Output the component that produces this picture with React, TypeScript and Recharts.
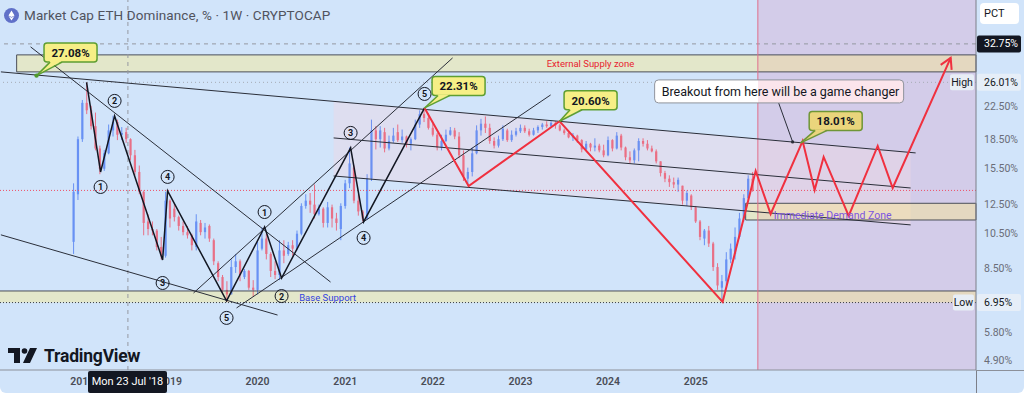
import React from 'react'
import {
  ComposedChart,
  Bar,
  Line,
  XAxis,
  YAxis,
  ReferenceArea,
  ReferenceLine,
  ReferenceDot,
} from 'recharts'

const W = 1024
const H = 393
const AXIS_X = 976
const BG = '#d1e4fa'
const FONT = 'Roboto, "Noto Sans", sans-serif'

const START = 2017.9
const STEP = 0.05
const opens = [
  10.0, 13.3, 18.5, 23.0, 22.0, 20.0, 17.5, 15.5, 17.0, 19.5, 20.5, 19.0, 19.3, 18.5, 16.8, 15.2, 13.5, 11.3, 10.8, 10.7,
  9.7, 9.2, 12.8, 12.2, 11.6, 11.0, 10.6, 10.4, 9.7, 11.2, 10.6, 11.0, 10.1, 8.8, 8.1, 7.5, 7.3, 8.6, 8.9, 8.1,
  8.4, 7.6, 7.5, 9.6, 10.2, 9.3, 8.4, 8.2, 9.5, 9.3, 9.8, 9.6, 10.5, 12.4, 12.8, 12.5, 11.8, 12.2, 11.2, 12.3,
  11.5, 10.8, 12.4, 14.2, 15.6, 12.8, 12.0, 11.5, 14.6, 19.5, 18.5, 19.3, 17.5, 18.3, 19.3, 18.4, 18.8, 18.0, 18.5, 20.2,
  21.5, 21.0, 19.8, 19.0, 17.6, 18.3, 19.0, 19.5, 18.8, 16.8, 14.6, 15.2, 17.0, 19.5, 20.3, 19.8, 18.3, 17.8, 18.5, 19.5,
  18.4, 19.0, 19.4, 19.8, 19.4, 19.0, 19.5, 19.9, 20.2, 20.0, 20.4, 20.1, 19.5, 19.2, 18.7, 18.9, 18.4, 17.4, 18.0, 17.6,
  17.8, 17.3, 16.8, 18.4, 17.5, 18.9, 17.6, 16.6, 16.3, 17.3, 18.3, 18.0, 17.5, 17.2, 16.2, 15.1, 14.6, 14.3, 14.1, 14.0,
  12.8, 13.2, 12.3, 11.3, 10.2, 10.7, 9.9, 8.6, 7.6, 7.9, 9.0, 9.3, 10.3, 11.5, 13.0, 14.6,
]
const highs = [
  14.2, 18.8, 23.4, 26.01, 22.6, 21.7, 17.8, 17.35, 20.2, 21.3, 20.8, 19.9, 19.8, 18.6, 17.35, 15.8, 13.6, 11.8, 11.3, 10.8,
  10.3, 13.5, 12.9, 12.6, 11.7, 11.3, 11.0, 10.5, 11.8, 11.4, 11.2, 11.1, 10.2, 8.9, 8.2, 7.9, 9.0, 9.3, 9.0, 8.5,
  8.45, 7.95, 10.0, 10.9, 10.5, 9.4, 8.9, 10.1, 10.1, 10.0, 10.1, 10.7, 12.6, 13.3, 13.4, 14.1, 12.5, 12.3, 12.7, 12.5,
  11.9, 12.6, 14.5, 17.6, 15.8, 13.3, 12.1, 15.0, 20.8, 20.0, 20.0, 19.8, 18.9, 19.8, 20.2, 19.6, 18.9, 18.7, 20.8, 22.0,
  22.31, 21.6, 20.3, 19.2, 19.0, 19.6, 19.9, 19.8, 19.3, 17.3, 15.6, 17.6, 20.1, 20.9, 21.2, 20.3, 18.7, 18.9, 20.1, 19.7,
  19.5, 19.8, 20.2, 20.1, 19.7, 19.8, 20.1, 20.4, 20.6, 20.6, 20.6, 20.3, 19.7, 19.3, 19.2, 19.0, 18.5, 18.3, 18.1, 18.6,
  18.0, 17.9, 18.8, 18.5, 19.3, 19.1, 17.7, 17.2, 17.5, 18.6, 18.6, 18.4, 17.8, 17.4, 16.2, 15.3, 14.9, 14.7, 14.7, 14.0,
  13.6, 13.3, 12.4, 11.4, 10.8, 11.0, 10.0, 8.8, 8.2, 9.4, 9.9, 10.9, 11.9, 13.3, 14.9, 15.2,
]
const lows = [
  9.3, 12.85, 18.2, 21.5, 19.6, 17.3, 15.0, 15.3, 16.9, 18.8, 18.4, 18.4, 18.1, 16.3, 14.9, 13.3, 10.4, 10.4, 10.4, 9.5,
  9.0, 9.1, 10.9, 11.3, 10.7, 10.4, 10.2, 9.5, 9.5, 10.4, 10.2, 10.0, 8.7, 7.9, 7.4, 6.98, 7.3, 8.3, 7.9, 8.0,
  7.5, 7.2, 7.3, 9.5, 9.0, 8.1, 8.0, 7.95, 8.8, 9.2, 9.2, 9.5, 10.4, 12.2, 11.9, 11.5, 11.7, 10.9, 10.9, 10.9,
  10.7, 10.1, 12.2, 13.8, 12.6, 11.7, 11.3, 11.4, 14.4, 17.4, 17.6, 17.1, 17.3, 18.1, 18.2, 18.1, 17.6, 17.3, 18.4, 19.8,
  20.5, 19.6, 18.8, 17.3, 17.3, 18.2, 18.9, 18.5, 16.5, 14.4, 14.0, 14.8, 16.9, 18.9, 19.2, 18.0, 17.5, 17.6, 18.3, 18.2,
  18.2, 18.8, 19.2, 19.2, 18.8, 18.9, 19.2, 19.6, 19.8, 19.9, 19.7, 19.4, 19.0, 18.6, 18.3, 18.1, 17.1, 17.3, 17.2, 17.2,
  17.1, 16.6, 16.7, 17.2, 17.4, 17.3, 16.3, 16.0, 16.0, 16.2, 17.7, 17.3, 17.1, 16.0, 14.8, 14.3, 13.9, 13.8, 13.5, 12.5,
  12.4, 12.1, 11.2, 10.1, 9.8, 9.7, 8.4, 7.5, 6.98, 7.7, 8.8, 9.0, 10.2, 11.3, 12.9, 13.5,
]
const closes = [
  13.5, 18.5, 23.0, 22.0, 20.0, 17.5, 15.5, 17.0, 19.5, 20.5, 19.0, 19.2, 18.5, 16.8, 15.2, 13.5, 11.2, 10.8, 10.7, 9.7,
  9.2, 12.8, 11.5, 11.6, 11.0, 10.6, 10.4, 9.8, 11.3, 10.6, 10.9, 10.2, 8.9, 8.1, 7.5, 7.3, 8.6, 8.9, 8.2, 8.4,
  7.6, 7.5, 9.5, 10.2, 9.3, 8.4, 8.2, 9.5, 9.2, 9.8, 9.6, 10.5, 12.4, 12.8, 12.5, 11.8, 12.2, 11.2, 12.3, 11.5,
  11.2, 12.4, 14.2, 16.0, 12.8, 12.0, 11.5, 14.6, 19.5, 18.5, 19.5, 17.5, 18.3, 18.9, 18.4, 18.8, 18.0, 18.5, 20.2, 21.5,
  21.0, 19.8, 19.0, 17.6, 18.3, 19.0, 19.5, 18.8, 16.8, 14.8, 15.2, 17.0, 19.5, 20.3, 19.8, 18.3, 17.8, 18.5, 19.7, 18.4,
  19.0, 19.4, 19.8, 19.4, 19.0, 19.5, 19.9, 20.2, 20.0, 20.4, 20.1, 19.5, 19.2, 18.7, 18.9, 18.4, 17.4, 18.0, 17.6, 17.8,
  17.3, 16.8, 18.4, 17.5, 18.9, 17.6, 16.6, 16.3, 17.3, 18.3, 18.0, 17.5, 17.2, 16.2, 15.1, 14.6, 14.3, 14.1, 14.5, 12.8,
  13.4, 12.3, 11.3, 10.3, 10.7, 9.9, 8.6, 7.7, 7.9, 9.0, 9.6, 10.3, 11.5, 13.0, 14.6, 13.61,
]
const times = opens.map((_, i) => +(START + i * STEP).toFixed(2))

const yearTicks = [2018, 2019, 2020, 2021, 2022, 2023, 2024, 2025]
const priceTicks = [4.9, 5.8, 6.95, 8.5, 10.5, 12.5, 13.61, 15.5, 18.5, 22.5, 26.01, 32.75]

// elliott wave zigzag (black) and projected path (red)
const wavePath = [
  { t: 2018.048, v: 26.01 }, { t: 2018.208, v: 15.2 }, { t: 2018.368, v: 21.27 }, { t: 2018.916, v: 8.97 },
  { t: 2018.973, v: 13.57 }, { t: 2019.646, v: 7.02 }, { t: 2020.08, v: 10.93 }, { t: 2020.274, v: 8.05 },
  { t: 2021.062, v: 17.56 }, { t: 2021.21, v: 11.27 }, { t: 2021.906, v: 22.31 },
]
const waveLabels = [
  { t: 2018.208, v: 15.2, n: 1, dy: 15 }, { t: 2018.368, v: 21.27, n: 2, dy: -15 },
  { t: 2018.916, v: 8.97, n: 3, dy: 23 }, { t: 2018.973, v: 13.57, n: 4, dy: -14 },
  { t: 2019.646, v: 7.02, n: 5, dy: 17 }, { t: 2020.08, v: 10.93, n: 1, dy: -15 },
  { t: 2020.274, v: 8.05, n: 2, dy: 18 }, { t: 2021.062, v: 17.56, n: 3, dy: -15 },
  { t: 2021.21, v: 11.27, n: 4, dy: 16 }, { t: 2021.906, v: 22.31, n: 5, dy: -14 },
]
const projPath = [
  { t: 2021.906, v: 22.31 }, { t: 2022.409, v: 13.98 }, { t: 2023.447, v: 20.6 }, { t: 2025.308, v: 6.98 },
  { t: 2025.685, v: 15.29 }, { t: 2025.856, v: 11.82 }, { t: 2026.221, v: 18.3 }, { t: 2026.358, v: 13.65 },
  { t: 2026.461, v: 16.63 }, { t: 2026.747, v: 11.68 }, { t: 2027.078, v: 17.77 }, { t: 2027.249, v: 13.81 },
  { t: 2027.911, v: 30.11 },
]
const arrowHead = [{ t: 2027.797, v: 28.88 }, { t: 2027.911, v: 30.11 }, { t: 2027.922, v: 28.02 }]

// trend lines [x1, y1, x2, y2]
const trendLines = [
  [2017.07, 27.69, 2027.511, 17.04],
  [2017.409, 32.17, 2020.833, 7.86],
  [2017.07, 10.43, 2020.228, 6.45],
  [2019.269, 7.36, 2022.226, 30.11],
  [2019.76, 6.73, 2023.345, 24.12],
  [2020.868, 18.64, 2027.454, 13.81],
  [2020.868, 14.84, 2027.454, 11.07],
]
const channel = { x1: 2020.868, x2: 2027.454, topL: 23.2, topR: 17.09, botL: 14.84, botR: 11.07 }

const callouts = [
  { t: 2017.477, v: 27.08, text: '27.08%', dx: 34, dy: -23, fill: '#f6ef86', stroke: '#5e9e32', dot: true },
  { t: 2021.906, v: 22.31, text: '22.31%', dx: 34, dy: -22, fill: '#f6ef86', stroke: '#5e9e32', dot: false },
  { t: 2023.447, v: 20.6, text: '20.60%', dx: 31, dy: -21, fill: '#f6ef86', stroke: '#5e9e32', dot: false },
  { t: 2026.199, v: 18.09, text: '18.01%', dx: 35, dy: -22, fill: '#ead57c', stroke: '#6f9636', dot: false },
]

const candles = times.map((t, i) => ({
  t,
  o: opens[i],
  h: highs[i],
  l: lows[i],
  c: closes[i],
  range: [lows[i], highs[i]],
}))

const Candle = (props: any) => {
  const { x, y, width, height, payload } = props
  if (!payload) return null
  const top = Math.min(y, y + height)
  const hgt = Math.abs(height)
  const lh = Math.log(payload.h)
  const ll = Math.log(payload.l)
  const py = (v: number) => top + (hgt * (lh - Math.log(v))) / (lh - ll || 1)
  const cx = x + width / 2
  const up = payload.c >= payload.o
  const color = up ? '#4576f2' : '#f04a60'
  const b1 = py(Math.max(payload.o, payload.c))
  const b2 = py(Math.min(payload.o, payload.c))
  return (
    <g opacity={0.75}>
      <line x1={cx} x2={cx} y1={top} y2={top + hgt} stroke={color} strokeWidth={1} />
      <rect x={cx - 1.1} y={b1} width={2.2} height={Math.max(1, b2 - b1)} fill={color} />
    </g>
  )
}

const channelShape = (p: any) => {
  const { x, y, width, height } = p
  const span = Math.log(channel.topL / channel.botR)
  const d1 = (height * Math.log(channel.topL / channel.topR)) / span
  const d2 = (height * Math.log(channel.botL / channel.botR)) / span
  const pts = `${x},${y} ${x + width},${y + d1} ${x + width},${y + height} ${x},${y + height - d2}`
  return <polygon points={pts} fill="rgb(235,216,230)" fillOpacity={0.5} />
}

const waveLabelShape = (n: number, dy: number) => (p: any) => (
  <g>
    <circle cx={p.cx} cy={p.cy + dy} r={6.5} fill="none" stroke="#131722" strokeWidth={1} />
    <text x={p.cx} y={p.cy + dy + 0.5} textAnchor="middle" dominantBaseline="central" fontSize={9} fontWeight={700} fill="#131722" fontFamily={FONT}>
      {n}
    </text>
  </g>
)

const calloutShape = (c: (typeof callouts)[number]) => (p: any) => {
  const w = 53
  const h = 19
  const bx = p.cx + c.dx - w / 2
  const by = p.cy + c.dy - h / 2
  return (
    <g>
      <rect x={bx} y={by} width={w} height={h} rx={3} fill={c.fill} stroke={c.stroke} strokeWidth={1.5} />
      <polygon points={`${bx + 6},${by + h - 1} ${p.cx},${p.cy} ${bx + 18},${by + h - 1}`} fill={c.fill} />
      <line x1={bx + 6} y1={by + h} x2={p.cx} y2={p.cy} stroke={c.stroke} strokeWidth={1.5} />
      <line x1={bx + 18} y1={by + h} x2={p.cx} y2={p.cy} stroke={c.stroke} strokeWidth={1.5} />
      {c.dot && <circle cx={p.cx} cy={p.cy} r={2.2} fill="#4f9a2e" />}
      <text x={bx + w / 2} y={by + h / 2 + 0.5} textAnchor="middle" dominantBaseline="central" fontSize={11.5} fontWeight={700} fill="#131722" fontFamily={FONT}>
        {c.text}
      </text>
    </g>
  )
}

const noteShape = (p: any) => {
  const bx = p.cx - 138
  const by = p.cy - 62
  return (
    <g>
      <defs>
        <linearGradient id="noteFill" x1="0" x2="1" y1="0" y2="0">
          <stop offset="0.414" stopColor="#ffffff" />
          <stop offset="0.414" stopColor="#fbe5ec" />
        </linearGradient>
      </defs>
      <line x1={p.cx - 14} y1={by + 23} x2={p.cx} y2={p.cy} stroke="#2a2e39" strokeWidth={1} />
      <circle cx={p.cx} cy={p.cy} r={1.6} fill="#2a2e39" />
      <rect x={bx} y={by} width={249} height={23} rx={4} fill="url(#noteFill)" stroke="#8f939c" strokeWidth={1} />
      <text x={bx + 7} y={by + 12} dominantBaseline="central" fontSize={12.5} fill="#131722" fontFamily={FONT}>
        Breakout from here will be a game changer
      </text>
    </g>
  )
}

const textShape = (text: string, color: string, size: number) => (p: any) => (
  <text x={p.cx} y={p.cy} textAnchor="middle" dominantBaseline="central" fontSize={size} fill={color} fontFamily={FONT}>
    {text}
  </text>
)

const BADGES: Record<string, { bg: string; fg: string; side?: string }> = {
  '32.75': { bg: '#131722', fg: '#ffffff' },
  '26.01': { bg: '#e6eef8', fg: '#131722', side: 'High' },
  '13.61': { bg: '#ff0000', fg: '#ffffff' },
  '6.95': { bg: '#e6eef8', fg: '#131722', side: 'Low' },
}

const renderPriceTick = (props: any) => {
  const { y, payload } = props
  const v = payload.value as number
  const label = `${v.toFixed(2)}%`
  const b = BADGES[String(v)]
  if (!b) {
    return (
      <text x={AXIS_X + 8} y={y} dominantBaseline="central" fontSize={10.5} fill="#6a6d78" fontFamily={FONT}>
        {label}
      </text>
    )
  }
  return (
    <g>
      {b.side && (
        <g>
          <rect x={AXIS_X - (b.side === 'High' ? 26 : 23)} y={y - 8} width={b.side === 'High' ? 24 : 21} height={16} rx={2} fill="#e8eef6" />
          <text x={AXIS_X - (b.side === 'High' ? 14 : 12.5)} y={y} textAnchor="middle" dominantBaseline="central" fontSize={10.5} fill="#131722" fontFamily={FONT}>
            {b.side}
          </text>
        </g>
      )}
      <rect x={AXIS_X + 1} y={y - 8.5} width={44} height={17} rx={2} fill={b.bg} />
      <text x={AXIS_X + 8} y={y} dominantBaseline="central" fontSize={10.5} fill={b.fg} fontFamily={FONT}>
        {label}
      </text>
    </g>
  )
}

const TvLogo = () => (
  <svg width={30} height={16} viewBox="0 0 30 16" style={{ display: 'block' }}>
    <path d="M0 0 H12 V15 H6 V5 H0 Z" fill="#131722" />
    <circle cx={16.5} cy={3} r={2.8} fill="#131722" />
    <path d="M22 0 H29 L22 15 H15 Z" fill="#131722" />
  </svg>
)

const App: React.FC = () => {
  return (
    <div
      style={{
        position: 'absolute',
        left: 0,
        top: 0,
        width: W,
        height: H,
        background: BG,
        borderRadius: '0 0 6px 6px',
        overflow: 'hidden',
        fontFamily: FONT,
      }}
    >
      <ComposedChart width={W} height={H} data={candles} margin={{ top: 0, right: 0, bottom: 0, left: 0 }}>
        <XAxis
          dataKey="t"
          type="number"
          domain={[2017.06, 2028.2]}
          allowDataOverflow
          ticks={yearTicks}
          tickFormatter={(v) => String(v)}
          height={23}
          axisLine={{ stroke: '#8c9099' }}
          tickLine={false}
          tick={{ fill: '#4a4d57', fontSize: 10.5, fontWeight: 600, fontFamily: FONT }}
        />
        <YAxis
          orientation="right"
          scale="log"
          domain={[4.64, 42.6]}
          allowDataOverflow
          ticks={priceTicks}
          width={48}
          tickLine={false}
          axisLine={{ stroke: '#7c7f88' }}
          tick={renderPriceTick}
        />

        {/* projection window */}
        <ReferenceArea x1={2025.71} x2={2028.2} y1={4.64} y2={42.6} fill="rgb(215,160,200)" fillOpacity={0.35} stroke="none" />
        <ReferenceArea x1={channel.x1} x2={channel.x2} y1={channel.botR} y2={channel.topL} shape={channelShape} />

        {/* zones */}
        <ReferenceArea x1={2017.25} x2={2028.2} y1={27.69} y2={30.66} fill="rgb(255,235,130)" fillOpacity={0.4} stroke="#4b4f58" strokeWidth={1} />
        <ReferenceArea x1={2017.06} x2={2028.2} y1={6.95} y2={7.45} fill="rgb(255,235,130)" fillOpacity={0.4} stroke="none" />
        <ReferenceArea x1={2025.571} x2={2028.2} y1={11.4} y2={12.6} fill="rgb(255,235,130)" fillOpacity={0.4} stroke="#4b4f58" strokeWidth={1} />
        <ReferenceLine y={7.45} stroke="#4b4f58" strokeWidth={1} />
        <ReferenceLine y={6.95} stroke="#3a3d45" strokeDasharray="1 2" />
        <ReferenceLine y={26.01} stroke="#a6abb5" strokeDasharray="1 3" />
        <ReferenceLine y={32.75} stroke="#9598a1" strokeDasharray="4 4" />
        <ReferenceLine x={2018.52} stroke="#9598a1" strokeDasharray="4 4" />
        <ReferenceLine y={13.61} stroke="#ef4f66" strokeDasharray="1 2" />
        <ReferenceLine x={2025.71} stroke="#e0708c" strokeWidth={1} />

        <Bar dataKey="range" shape={Candle} activeBar={false} barSize={3} isAnimationActive={false} />

        {trendLines.map((s, i) => (
          <ReferenceLine
            key={`tl-${i}`}
            segment={[
              { x: s[0], y: s[1] },
              { x: s[2], y: s[3] },
            ]}
            stroke="#2a2e39"
            strokeWidth={1}
          />
        ))}

        <Line data={wavePath} dataKey="v" type="linear" stroke="#131722" strokeWidth={1.5} dot={false} activeDot={false} isAnimationActive={false} />
        <Line data={projPath} dataKey="v" type="linear" stroke="#f0303f" strokeWidth={2} dot={false} activeDot={false} isAnimationActive={false} />
        <Line data={arrowHead} dataKey="v" type="linear" stroke="#f0303f" strokeWidth={2} dot={false} activeDot={false} isAnimationActive={false} />

        <ReferenceDot x={2023.8} y={29.05} r={0} shape={textShape('External Supply zone', '#e8232f', 9.5)} />
        <ReferenceDot x={2020.8} y={7.16} r={0} shape={textShape('Base Support', '#3343e0', 9.5)} />
        <ReferenceDot x={2026.564} y={11.68} r={0} shape={textShape('Immediate Demand Zone', '#7b55e0', 10.5)} />

        {waveLabels.map((w, i) => (
          <ReferenceDot key={`wl-${i}`} x={w.t} y={w.v} r={0} shape={waveLabelShape(w.n, w.dy)} />
        ))}
        {callouts.map((c, i) => (
          <ReferenceDot key={`co-${i}`} x={c.t} y={c.v} r={0} shape={calloutShape(c)} />
        ))}
        <ReferenceDot x={2026.107} y={18.2} r={0} shape={noteShape} />
      </ComposedChart>

      {/* header */}
      <div style={{ position: 'absolute', left: 4, top: 7, display: 'flex', alignItems: 'center', gap: 5 }}>
        <svg width={15} height={15} viewBox="0 0 15 15">
          <circle cx={7.5} cy={7.5} r={7.5} fill="#6070c8" />
          <path d="M7.5 2.5 L10.5 7.4 L7.5 9.1 L4.5 7.4 Z M7.5 9.8 L10.5 8.1 L7.5 12.4 L4.5 8.1 Z" fill="#ffffff" />
        </svg>
        <span style={{ fontSize: 13.5, color: '#50535e', letterSpacing: 0.1 }}>Market Cap ETH Dominance, % · 1W · CRYPTOCAP</span>
      </div>

      {/* PCT button */}
      <div
        style={{
          position: 'absolute',
          left: 980,
          top: 3,
          width: 39,
          height: 21,
          background: '#ffffff',
          borderRadius: 4,
          fontSize: 11,
          color: '#131722',
          lineHeight: '21px',
          paddingLeft: 4,
          boxSizing: 'border-box',
        }}
      >
        PCT
      </div>

      {/* axis extensions */}
      <div style={{ position: 'absolute', left: AXIS_X, top: 370, width: 1, height: 23, background: '#7c7f88' }} />
      <div style={{ position: 'absolute', left: AXIS_X, top: 370, width: 48, height: 1, background: '#8c9099' }} />

      {/* logo */}
      <div style={{ position: 'absolute', left: 8, top: 346, display: 'flex', alignItems: 'center', gap: 6 }}>
        <TvLogo />
        <span style={{ fontSize: 17.5, fontWeight: 700, color: '#131722', letterSpacing: -0.2 }}>TradingView</span>
      </div>

      {/* crosshair date */}
      <div
        style={{
          position: 'absolute',
          left: 88,
          top: 371,
          width: 79,
          height: 22,
          background: '#131722',
          color: '#ffffff',
          fontSize: 11,
          lineHeight: '22px',
          textAlign: 'center',
          borderRadius: 2,
        }}
      >
        Mon 23 Jul '18
      </div>
    </div>
  )
}

export default App
